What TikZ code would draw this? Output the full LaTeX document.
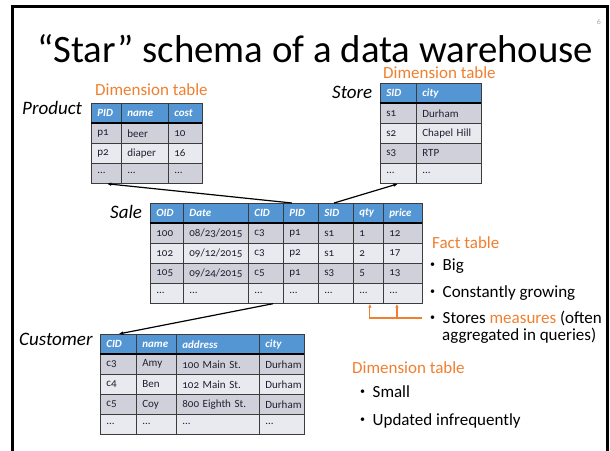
\documentclass[tikz,border=0pt]{standalone}
\usepackage{fontspec}
\setmainfont{Carlito}[Numbers=OldStyle]
\usetikzlibrary{arrows.meta,calc}
\definecolor{hdrblue}{RGB}{84,150,212}
\definecolor{rowdark}{RGB}{208,208,218}
\definecolor{rowlight}{RGB}{233,233,240}
\definecolor{gridc}{RGB}{60,60,60}
\definecolor{orng}{RGB}{240,128,48}
\definecolor{celltxt}{RGB}{32,32,48}
\newcommand\ddd{...}
\newcommand\bul{\makebox[12.5pt][l]{\raisebox{3pt}{\fontsize{10}{10}\selectfont •}}}
\tikzset{
  cellnode/.style={draw=gridc, line width=0.7pt, inner xsep=6pt, inner ysep=0pt,
    anchor=north west, align=left, text=celltxt, font=\fontsize{11}{12}\selectfont},
  tname/.style={anchor=base west, inner sep=0pt, font=\fontsize{19}{22}\selectfont\itshape},
  orlabel/.style={anchor=base west, inner sep=0pt, text=orng, font=\fontsize{17}{20}\selectfont},
  btext/.style={anchor=base west, inner sep=0pt, font=\fontsize{17}{20}\selectfont},
  link/.style={line width=1.2pt, -{Latex[length=5pt,width=3.5pt]}},
  olink/.style={draw=orng, line width=1.2pt, -{Latex[length=4pt,width=3.5pt]}},
  hline/.style={line width=1.8pt, draw=black}
}
\newcommand\tcell[7]{%
  \pgfmathsetmacro\tcw{#4-#2-12}%
  \pgfmathsetmacro\tch{#5-#3}%
  \node[cellnode, fill=#6, text width=\tcw pt, minimum height=\tch pt] (#1) at (#2,#3) {#7};}
\begin{document}
\begin{tikzpicture}[x=1pt,y=-1pt]
\useasboundingbox (0,0) rectangle (610,450);
\fill[white] (0,0) rectangle (610,450);
% frame
\draw[line width=3pt] (12,470) -- (12,6) -- (607,6) -- (607,470);
% page number and title
\node[anchor=base east, inner sep=0pt, text=gray!70, font=\fontsize{8}{9}\selectfont] (pgnum) at (601,24) {6};
\node[anchor=base west, inner sep=0pt] (title) at (37,62) {\resizebox{556pt}{!}{\fontsize{40}{44}\selectfont “Star” schema of a data warehouse}};

% Product table
\foreach \c/\xa/\xb/\h/\ra/\rb/\rc in {1/91/121/PID/p1/p2/\ddd,2/121/168/name/beer/diaper/\ddd,3/168/202/cost/10/16/\ddd}{
  \tcell{product-0-\c}{\xa}{103}{\xb}{123}{hdrblue}{\textcolor{white}{\bfseries\itshape \h}}
  \tcell{product-1-\c}{\xa}{123}{\xb}{143}{rowdark}{\ra}
  \tcell{product-2-\c}{\xa}{143}{\xb}{163}{rowlight}{\rb}
  \tcell{product-3-\c}{\xa}{163}{\xb}{183}{rowdark}{\rc}
}
\draw[hline] (91,123) -- (202,123);

% Store table
\foreach \c/\xa/\xb/\h/\ra/\rb/\rc/\rd in {1/380/416/SID/s1/s2/s3/\ddd,2/416/481/city/Durham/Chapel Hill/RTP/\ddd}{
  \tcell{store-0-\c}{\xa}{83}{\xb}{103}{hdrblue}{\textcolor{white}{\bfseries\itshape \h}}
  \tcell{store-1-\c}{\xa}{103}{\xb}{123}{rowdark}{\ra}
  \tcell{store-2-\c}{\xa}{123}{\xb}{143}{rowlight}{\rb}
  \tcell{store-3-\c}{\xa}{143}{\xb}{163}{rowdark}{\rc}
  \tcell{store-4-\c}{\xa}{163}{\xb}{183}{rowlight}{\rd}
}
\draw[hline] (380,103) -- (481,103);

% Sale table
\foreach \c/\xa/\xb/\h/\ra/\rb/\rc/\rd in {1/150/183/OID/100/102/105/\ddd,2/183/248/Date/{08/23/2015}/{09/12/2015}/{09/24/2015}/\ddd,3/248/283/CID/c3/c3/c5/\ddd,4/283/318/PID/p1/p2/p1/\ddd,5/318/353/SID/s1/s1/s3/\ddd,6/353/383/qty/1/2/5/\ddd,7/383/422/price/12/17/13/\ddd}{
  \tcell{sale-0-\c}{\xa}{203}{\xb}{223}{hdrblue}{\textcolor{white}{\bfseries\itshape \h}}
  \tcell{sale-1-\c}{\xa}{223}{\xb}{243}{rowdark}{\ra}
  \tcell{sale-2-\c}{\xa}{243}{\xb}{263}{rowlight}{\rb}
  \tcell{sale-3-\c}{\xa}{263}{\xb}{283}{rowdark}{\rc}
  \tcell{sale-4-\c}{\xa}{283}{\xb}{303}{rowlight}{\rd}
}
\draw[hline] (150,223) -- (422,223);

% Customer table
\foreach \c/\xa/\xb/\h/\ra/\rb/\rc/\rd in {1/100/136/CID/c3/c4/c5/\ddd,2/136/176/name/Amy/Ben/Coy/\ddd,3/176/259/address/100 Main St./102 Main St./800 Eighth St./\ddd,4/259/304/city/Durham/Durham/Durham/\ddd}{
  \tcell{customer-0-\c}{\xa}{334}{\xb}{354}{hdrblue}{\textcolor{white}{\bfseries\itshape \h}}
  \tcell{customer-1-\c}{\xa}{354}{\xb}{374}{rowdark}{\ra}
  \tcell{customer-2-\c}{\xa}{374}{\xb}{394}{rowlight}{\rb}
  \tcell{customer-3-\c}{\xa}{394}{\xb}{414}{rowdark}{\rc}
  \tcell{customer-4-\c}{\xa}{414}{\xb}{434}{rowlight}{\rd}
}
\draw[hline] (100,354) -- (304,354);

% table names and labels
\node[tname] (lproduct) at (22,114) {Product};
\node[tname] (lstore) at (332,98) {Store};
\node[tname] (lsale) at (110,218) {Sale};
\node[tname] (lcustomer) at (19,345) {Customer};
\node[orlabel] (dim1) at (95,95) {Dimension table};
\node[orlabel] (dim2) at (383,78) {Dimension table};

% connectors
\draw[link] ($(sale-0-4.north west)!0.25!(sale-0-4.north east)$) -- (product-3-1.south);
\draw[link] ($(sale-0-5.north west)!0.45!(sale-0-5.north east)$) -- (store-4-1.south);
\draw[link] ($(sale-4-3.south west)!0.7!(sale-4-3.south east)$) -- (customer-0-1.north);

% fact table notes
\node[orlabel] (fact) at (432,248) {Fact table};
\node[btext] (b1) at (430,270) {\bul Big};
\node[btext] (b2) at (430,297) {\bul Constantly growing};
\node[btext] (b3) at (430,323) {\bul Stores \textcolor{orng}{measures} (often};
\node[btext] (b3b) at (442,340) {aggregated in queries)};
\coordinate (ofree) at (422,318);
\draw[olink] (ofree) -| ($(sale-4-6.south west)!0.55!(sale-4-6.south east)$);
\draw[olink] (ofree) -| ($(sale-4-7.south west)!0.35!(sale-4-7.south east)$);

% dimension table notes
\node[orlabel] (dim3) at (352,373) {Dimension table};
\node[btext] (b4) at (360,397) {\bul Small};
\node[btext] (b5) at (360,425) {\bul Updated infrequently};
\end{tikzpicture}
\end{document}
